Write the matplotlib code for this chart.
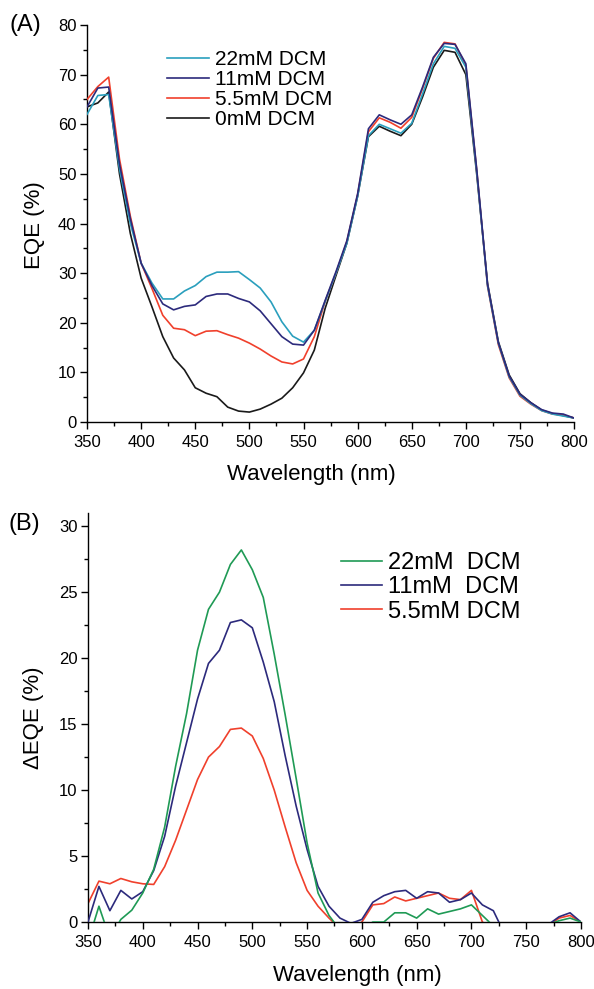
import numpy as np
import matplotlib
matplotlib.use('Agg')
import matplotlib.pyplot as plt
from matplotlib.ticker import MultipleLocator

plt.rcParams['font.family'] = ['Liberation Sans', 'DejaVu Sans']

# wavelength grid (nm)
wl = np.arange(350, 801, 10)

# (A) EQE (%)
eqe_22 = [62.0, 65.8, 66.0, 51.0, 40.0, 32.0, 28.0, 24.8, 24.8, 26.4,
          27.5, 29.3, 30.2, 30.2, 30.3, 28.7, 27.0, 24.2, 20.2, 17.3,
          16.1, 18.5, 24.3, 30.0, 36.0, 45.5, 57.7, 60.0, 59.1, 58.2,
          60.2, 66.1, 72.2, 75.7, 75.3, 71.5, 50.5, 27.5, 15.9, 9.1,
          5.4, 3.7, 2.3, 1.6, 1.2, 0.8]
eqe_11 = [63.5, 67.3, 67.5, 52.0, 41.0, 32.0, 27.5, 23.8, 22.6, 23.3,
          23.6, 25.3, 25.8, 25.8, 24.9, 24.2, 22.4, 19.8, 17.2, 15.7,
          15.5, 18.5, 24.5, 30.3, 36.5, 46.0, 59.1, 61.9, 60.9, 60.0,
          61.9, 67.5, 73.5, 76.3, 76.1, 72.2, 51.0, 27.8, 16.0, 9.3,
          5.6, 3.9, 2.5, 1.8, 1.6, 0.8]
eqe_55 = [65.0, 67.6, 69.5, 53.0, 41.5, 32.0, 26.9, 21.5, 18.9, 18.6,
          17.4, 18.3, 18.4, 17.6, 16.9, 15.9, 14.7, 13.3, 12.1, 11.7,
          12.7, 17.2, 24.3, 30.0, 36.3, 45.8, 58.5, 61.3, 60.4, 59.2,
          61.4, 67.2, 73.3, 76.5, 76.2, 71.8, 50.8, 27.4, 15.6, 8.9,
          5.2, 3.6, 2.3, 1.6, 1.4, 0.8]
eqe_0 = [63.5, 64.3, 66.5, 50.0, 38.0, 29.0, 23.2, 17.2, 12.9, 10.5,
         6.9, 5.8, 5.1, 3.0, 2.2, 2.0, 2.6, 3.6, 4.8, 6.9,
         9.9, 14.5, 22.9, 29.5, 36.0, 45.5, 57.5, 59.6, 58.6, 57.7,
         60.0, 65.5, 71.5, 74.9, 74.5, 70.0, 50.0, 28.0, 16.2, 9.5,
         5.7, 3.9, 2.4, 1.7, 1.3, 0.8]

# (B) delta EQE (%)
d_22 = [-1.5, 1.2, -1.25, 0.2, 0.9, 2.2, 4.0, 7.2, 11.8, 15.8,
        20.6, 23.7, 25.0, 27.1, 28.2, 26.7, 24.6, 20.3, 15.7, 10.9,
        6.0, 2.2, 0.5, -0.6, -1.0, -0.5, 0.0, 0.0, 0.7, 0.7,
        0.3, 1.0, 0.6, 0.8, 1.0, 1.3, 0.5, -0.3, -0.5, -0.5,
        -0.5, -0.5, -0.2, 0.1, 0.3, 0.0]
d_11 = [0.0, 2.7, 0.86, 2.4, 1.75, 2.3, 3.9, 6.5, 10.3, 13.6,
        16.9, 19.6, 20.6, 22.7, 22.9, 22.3, 19.7, 16.7, 12.6, 8.8,
        5.5, 2.7, 1.2, 0.3, -0.1, 0.2, 1.5, 2.0, 2.3, 2.4,
        1.8, 2.3, 2.2, 1.5, 1.7, 2.2, 1.3, 0.86, -0.86, -0.5,
        -0.5, -0.5, -0.2, 0.4, 0.7, 0.0]
d_55 = [1.4, 3.1, 2.9, 3.3, 3.05, 2.9, 2.85, 4.2, 6.2, 8.5,
        10.8, 12.5, 13.3, 14.6, 14.7, 14.1, 12.4, 10.0, 7.2, 4.5,
        2.4, 1.2, 0.3, -0.5, -0.5, 0.0, 1.3, 1.4, 1.9, 1.6,
        1.8, 2.0, 2.2, 1.8, 1.7, 2.4, 0.0, -0.5, -0.5, -0.5,
        -0.5, -0.5, -0.3, 0.3, 0.5, 0.0]

c_cyan = '#2a9fbd'
c_navy = '#2c2a7c'
c_red = '#f0402c'
c_black = '#1a1a1a'
c_green = '#1f9a55'

fig = plt.figure(figsize=(5.94, 9.89), dpi=100)
ax1 = fig.add_axes([0.1465, 0.5733, 0.820, 0.4014])
ax2 = fig.add_axes([0.1481, 0.0677, 0.830, 0.4136])

lw = 1.2
ax1.plot(wl, eqe_0, color=c_black, lw=lw, label='0mM DCM', zorder=2)
ax1.plot(wl, eqe_55, color=c_red, lw=lw, label='5.5mM DCM', zorder=3)
ax1.plot(wl, eqe_22, color=c_cyan, lw=lw, label='22mM DCM', zorder=4)
ax1.plot(wl, eqe_11, color=c_navy, lw=lw, label='11mM DCM', zorder=5)
h, l = ax1.get_legend_handles_labels()
order = [2, 3, 1, 0]
ax1.legend([h[i] for i in order], [l[i] for i in order], loc='upper left',
           bbox_to_anchor=(0.164, 0.937), frameon=False, fontsize=15,
           handlelength=2.0, handletextpad=0.3, labelspacing=0.05,
           borderpad=0, borderaxespad=0)
ax1.set_ylim(0, 80)
ax1.yaxis.set_major_locator(MultipleLocator(10))
ax1.yaxis.set_minor_locator(MultipleLocator(5))

ax2.plot(wl, d_55, color=c_red, lw=lw, label='5.5mM DCM', zorder=2)
ax2.plot(wl, d_11, color=c_navy, lw=lw, label='11mM  DCM', zorder=3)
ax2.plot(wl, d_22, color=c_green, lw=lw, label='22mM  DCM', zorder=4)
h, l = ax2.get_legend_handles_labels()
ax2.legend(h[::-1], l[::-1], loc='upper left', bbox_to_anchor=(0.513, 0.905),
           frameon=False, fontsize=17, handlelength=1.75, handletextpad=0.25,
           labelspacing=0.1, borderpad=0, borderaxespad=0)
ax2.set_ylim(0, 31)
ax2.yaxis.set_major_locator(MultipleLocator(5))
ax2.yaxis.set_minor_locator(MultipleLocator(2.5))

for ax in (ax1, ax2):
    ax.set_xlim(350, 800)
    ax.xaxis.set_major_locator(MultipleLocator(50))
    ax.xaxis.set_minor_locator(MultipleLocator(25))
    ax.spines['top'].set_visible(False)
    ax.spines['right'].set_visible(False)
    for s in ('left', 'bottom'):
        ax.spines[s].set_linewidth(1.0)
    ax.tick_params(which='major', direction='out', length=5, width=1.0,
                   labelsize=12, pad=2.5)
    ax.tick_params(which='minor', direction='out', length=3.2, width=1.0)
    ax.tick_params(axis='x', which='major', pad=4)

ax1.set_xlabel('Wavelength (nm)', fontsize=16)
ax1.set_ylabel('EQE (%)', fontsize=16)
ax1.xaxis.set_label_coords(0.46, -0.132)
ax1.yaxis.set_label_coords(-0.107, 0.495)

ax2.set_xlabel('Wavelength (nm)', fontsize=16)
ax2.set_ylabel('ΔEQE (%)', fontsize=16)
ax2.xaxis.set_label_coords(0.546, -0.13)
ax2.yaxis.set_label_coords(-0.11, 0.5)

for ax in (ax1, ax2):
    ax.xaxis.label.set_verticalalignment('center')
    ax.yaxis.label.set_verticalalignment('center')

fig.text(0.042, 0.975, '(A)', fontsize=17, ha='center', va='center')
fig.text(0.041, 0.47, '(B)', fontsize=17, ha='center', va='center')

fig.savefig('out.png', dpi=100)
